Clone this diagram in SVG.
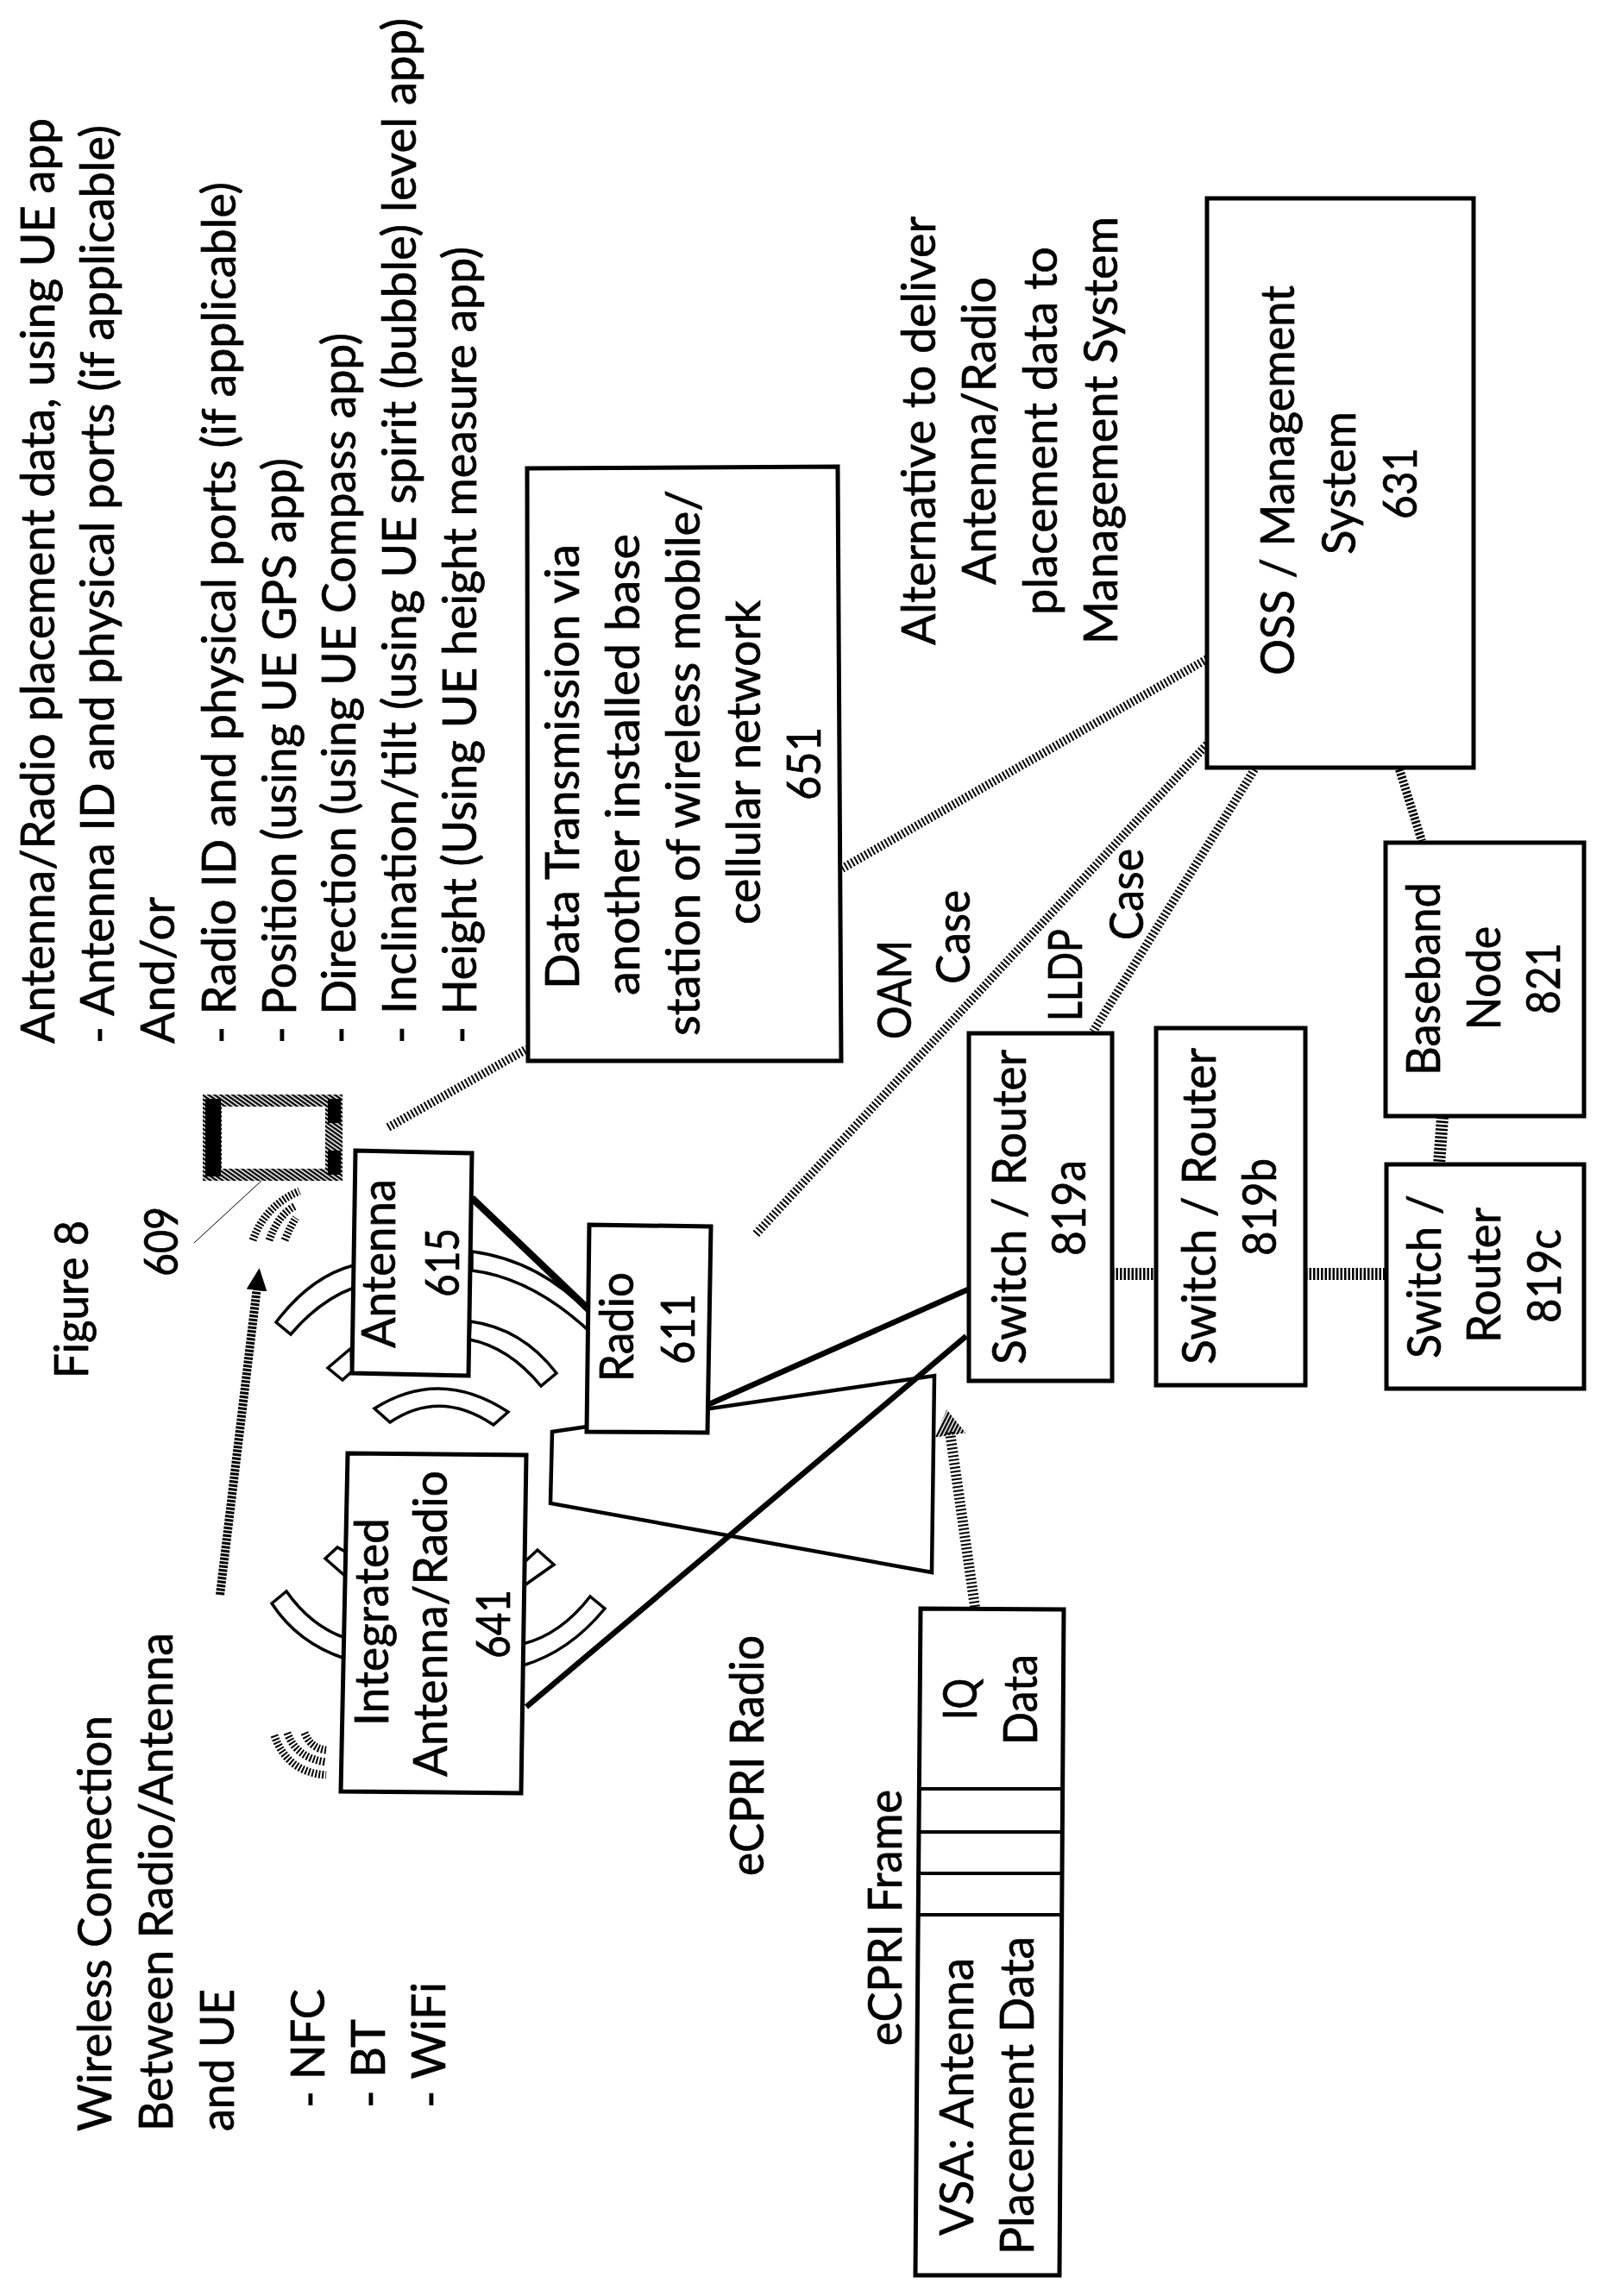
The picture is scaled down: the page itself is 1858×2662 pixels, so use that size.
<svg xmlns="http://www.w3.org/2000/svg" width="1858" height="2662" viewBox="0 0 1858 2662">
<style>
text{font-family:"Lato","Carlito","Liberation Sans",sans-serif;font-size:54px;fill:#000;stroke:#000;stroke-width:.7}
.b{fill:#fff;stroke:#000;stroke-width:5;stroke-linejoin:miter}
.a{fill:#fff;stroke:#000;stroke-width:3.5;stroke-linejoin:miter}
.k{fill:none;stroke:#000;stroke-width:6.5;stroke-linecap:butt}
.h{fill:none;stroke:#000;stroke-width:10;stroke-dasharray:2 2.5}
.hd{fill:none;stroke:#000;stroke-width:14;stroke-dasharray:2.5 2}
.w{fill:none;stroke:#000;stroke-width:9;stroke-dasharray:2 2}
</style>
<defs>
<pattern id="hatch" width="4" height="4" patternUnits="userSpaceOnUse" patternTransform="rotate(35)"><rect width="4" height="2.4" fill="#000"/></pattern>
<marker id="ah" markerUnits="userSpaceOnUse" markerWidth="30" markerHeight="30" refX="4" refY="12" orient="auto"><path d="M0 0L26 12L0 24Z" fill="#000"/></marker>
<marker id="ah2" markerUnits="userSpaceOnUse" markerWidth="36" markerHeight="40" refX="4" refY="18" orient="auto"><path d="M0 0L30 18L0 36Z" fill="url(#hatch)"/></marker>
</defs>

<g id="connectors">
<path class="h" d="M1399 764L976 1007"/>
<path class="h" d="M1399 863L875 1432"/>
<path class="h" d="M1454 892L1267 1196"/>
<path class="hd" style="stroke-width:10" d="M1622 892L1648 975"/>
<path class="hd" d="M1289 1477H1340"/>
<path class="hd" d="M1513 1477H1607"/>
<path class="hd" d="M1672 1295L1668 1350"/>
<path class="h" d="M450 1307L611 1216"/>
<path class="hd" style="stroke-width:10;stroke-dasharray:3 1.5" marker-end="url(#ah)" d="M255 1849L298 1492"/>
<path class="h" style="stroke-width:12;stroke-dasharray:2 2.5" marker-end="url(#ah2)" d="M1130 1863L1101 1660"/>
<path d="M225 1441L303 1369" fill="none" stroke="#000" stroke-width="1"/>
</g>

<g id="wireless-arcs">
<path class="a" d="M410 1467Q360 1480 320 1533L337 1547Q370 1508 410 1493Z"/>
<path class="a" d="M407 1563L380 1586L397 1600L408 1590Z"/>
<path class="a" d="M547 1451Q630 1462 690 1530L690 1550Q620 1482 547 1473Z"/>
<path class="a" d="M545 1532Q605 1540 645 1592L627 1607Q590 1562 544 1553Z"/>
<path class="a" d="M434 1633Q510 1585 589 1637L572 1652Q510 1610 452 1649Z"/>
<path class="a" d="M377 1807L391 1794L402 1800L402 1829Z"/>
<path class="a" d="M315 1859L332 1845Q360 1885 400 1899L400 1923Q345 1905 315 1859Z"/>
<path class="a" d="M608 1811L623 1797L642 1814L608 1838Z"/>
<path class="a" d="M606 1906Q650 1895 684 1851L701 1865Q660 1915 606 1931Z"/>
</g>

<g id="signal-ue">
<path class="w" d="M293 1438Q307 1398 347 1381"/>
<path class="w" d="M312 1438Q323 1407 343 1398"/>
<path class="w" d="M330 1438Q337 1421 343 1412"/>
</g>
<g id="signal-641">
<path class="w" d="M318 2012Q333 2055 378 2058"/>
<path class="w" d="M333 2009Q343 2038 378 2043"/>
<path class="w" d="M353 2009Q360 2027 378 2029"/>
</g>

<g id="node-609">
<path fill="url(#hatch)" fill-rule="evenodd" d="M235 1269H397V1369H235ZM257 1283V1355H377V1283Z"/>
<rect x="238" y="1274" width="18" height="90" fill="#000"/>
<rect x="380" y="1274" width="15" height="28" fill="#000"/>
<rect x="380" y="1334" width="15" height="28" fill="#000"/>
<text transform="translate(206,1480) rotate(-90)" textLength="81" lengthAdjust="spacingAndGlyphs">609</text>
</g>

<g id="node-eCPRI-radio">
<polygon class="b" style="stroke-width:4.5" points="640,1660 1083,1595 1080,1823 638,1743"/>
</g>

<g id="links-thick">
<path class="k" style="stroke-width:8" d="M547 1389L680 1516"/>
<path class="k" d="M822 1628L1122 1495"/>
<path class="k" d="M610 1979L1120 1549"/>
</g>

<g id="node-615">
<polygon class="b" points="412,1334 547,1337 543,1595 408,1592"/>
<text transform="translate(458,1563) rotate(-90)" textLength="196" lengthAdjust="spacingAndGlyphs">Antenna</text>
<text transform="translate(532,1504) rotate(-90)" textLength="80" lengthAdjust="spacingAndGlyphs">615</text>
</g>
<g id="node-611">
<polygon class="b" points="683,1420 824,1422 820,1661 680,1660"/>
<text transform="translate(734,1602) rotate(-90)" textLength="127" lengthAdjust="spacingAndGlyphs">Radio</text>
<text transform="translate(805,1582) rotate(-90)" textLength="82" lengthAdjust="spacingAndGlyphs">611</text>
</g>
<g id="node-641">
<polygon class="b" points="403,1685 610,1687 604,2079 395,2077"/>
<text transform="translate(450,2001) rotate(-90)" textLength="241" lengthAdjust="spacingAndGlyphs">Integrated</text>
<text transform="translate(518,2060) rotate(-90)" textLength="355" lengthAdjust="spacingAndGlyphs">Antenna/Radio</text>
<text transform="translate(591,1923) rotate(-90)" textLength="80" lengthAdjust="spacingAndGlyphs">641</text>
</g>
<g id="node-651">
<polygon class="b" points="611,543 971,541 975,1230 612,1230"/>
<text transform="translate(671,1147) rotate(-90)" textLength="516" lengthAdjust="spacingAndGlyphs">Data Transmission via</text>
<text transform="translate(741,1154) rotate(-90)" textLength="535" lengthAdjust="spacingAndGlyphs">another installed base</text>
<text transform="translate(811,1201) rotate(-90)" textLength="633" lengthAdjust="spacingAndGlyphs">station of wireless mobile/</text>
<text transform="translate(881,1072) rotate(-90)" textLength="376" lengthAdjust="spacingAndGlyphs">cellular network</text>
<text transform="translate(951,928) rotate(-90)" textLength="85" lengthAdjust="spacingAndGlyphs">651</text>
</g>
<g id="node-631">
<rect class="b" x="1399" y="230" width="309" height="660"/>
<text transform="translate(1500,783) rotate(-90)" textLength="452" lengthAdjust="spacingAndGlyphs">OSS / Management</text>
<text transform="translate(1571,643) rotate(-90)" textLength="166" lengthAdjust="spacingAndGlyphs">System</text>
<text transform="translate(1642,602) rotate(-90)" textLength="83" lengthAdjust="spacingAndGlyphs">631</text>
</g>
<g id="node-821">
<rect class="b" x="1606" y="977" width="230" height="317"/>
<text transform="translate(1669,1247) rotate(-90)" textLength="224" lengthAdjust="spacingAndGlyphs">Baseband</text>
<text transform="translate(1739,1194) rotate(-90)" textLength="120" lengthAdjust="spacingAndGlyphs">Node</text>
<text transform="translate(1808,1176) rotate(-90)" textLength="83" lengthAdjust="spacingAndGlyphs">821</text>
</g>
<g id="node-819a">
<rect class="b" x="1123" y="1198" width="166" height="403"/>
<text transform="translate(1189,1582) rotate(-90)" textLength="365" lengthAdjust="spacingAndGlyphs">Switch / Router</text>
<text transform="translate(1258,1456) rotate(-90)" textLength="111" lengthAdjust="spacingAndGlyphs">819a</text>
</g>
<g id="node-819b">
<rect class="b" x="1340" y="1192" width="173" height="414"/>
<text transform="translate(1409,1582) rotate(-90)" textLength="367" lengthAdjust="spacingAndGlyphs">Switch / Router</text>
<text transform="translate(1479,1456) rotate(-90)" textLength="113" lengthAdjust="spacingAndGlyphs">819b</text>
</g>
<g id="node-819c">
<rect class="b" x="1607" y="1350" width="229" height="260"/>
<text transform="translate(1670,1575) rotate(-90)" textLength="190" lengthAdjust="spacingAndGlyphs">Switch /</text>
<text transform="translate(1739,1557) rotate(-90)" textLength="157" lengthAdjust="spacingAndGlyphs">Router</text>
<text transform="translate(1809,1534) rotate(-90)" textLength="109" lengthAdjust="spacingAndGlyphs">819c</text>
</g>
<g id="node-frame">
<polygon class="b" points="1067,1865 1233,1866 1228,2638 1061,2638"/>
<path class="b" style="stroke-width:4;fill:none" d="M1066 2074H1231M1065 2124H1231M1065 2172H1230M1065 2220H1230"/>
<text transform="translate(1132,1994) rotate(-90)" textLength="48" lengthAdjust="spacingAndGlyphs">IQ</text>
<text transform="translate(1202,2023) rotate(-90)" textLength="105" lengthAdjust="spacingAndGlyphs">Data</text>
<text transform="translate(1128,2592) rotate(-90)" textLength="322" lengthAdjust="spacingAndGlyphs">VSA: Antenna</text>
<text transform="translate(1198,2614) rotate(-90)" textLength="369" lengthAdjust="spacingAndGlyphs">Placement Data</text>
</g>

<g id="labels">
<text transform="translate(63,1210) rotate(-90)" textLength="1073" lengthAdjust="spacingAndGlyphs">Antenna/Radio placement data, using UE app</text>
<text transform="translate(132,1210) rotate(-90)" textLength="1065" lengthAdjust="spacingAndGlyphs">- Antenna ID and physical ports (if applicable)</text>
<text transform="translate(202,1210) rotate(-90)" textLength="170" lengthAdjust="spacingAndGlyphs">And/or</text>
<text transform="translate(273,1210) rotate(-90)" textLength="999" lengthAdjust="spacingAndGlyphs">- Radio ID and physical ports (if applicable)</text>
<text transform="translate(343,1210) rotate(-90)" textLength="679" lengthAdjust="spacingAndGlyphs">- Position (using UE GPS app)</text>
<text transform="translate(412,1210) rotate(-90)" textLength="824" lengthAdjust="spacingAndGlyphs">- Direction (using UE Compass app)</text>
<text transform="translate(482,1210) rotate(-90)" textLength="1189" lengthAdjust="spacingAndGlyphs">- Inclination/tilt (using UE spirit (bubble) level app)</text>
<text transform="translate(552,1210) rotate(-90)" textLength="924" lengthAdjust="spacingAndGlyphs">- Height (Using UE height measure app)</text>
<text transform="translate(102,1598) rotate(-90)" textLength="183" lengthAdjust="spacingAndGlyphs">Figure 8</text>
<text transform="translate(129,2471) rotate(-90)" textLength="482" lengthAdjust="spacingAndGlyphs">Wireless Connection</text>
<text transform="translate(200,2471) rotate(-90)" textLength="578" lengthAdjust="spacingAndGlyphs">Between Radio/Antenna</text>
<text transform="translate(271,2471) rotate(-90)" textLength="165" lengthAdjust="spacingAndGlyphs">and UE</text>
<text transform="translate(376,2444) rotate(-90)" textLength="138" lengthAdjust="spacingAndGlyphs">-  NFC</text>
<text transform="translate(446,2444) rotate(-90)" textLength="103" lengthAdjust="spacingAndGlyphs">-  BT</text>
<text transform="translate(516,2444) rotate(-90)" textLength="146" lengthAdjust="spacingAndGlyphs">-  WiFi</text>
<text transform="translate(885,2175) rotate(-90)" textLength="279" lengthAdjust="spacingAndGlyphs">eCPRI Radio</text>
<text transform="translate(1045,2372) rotate(-90)" textLength="297" lengthAdjust="spacingAndGlyphs">eCPRI Frame</text>
<text transform="translate(1056,1205) rotate(-90)" textLength="115" lengthAdjust="spacingAndGlyphs">OAM</text>
<text transform="translate(1124,1141) rotate(-90)" textLength="109" lengthAdjust="spacingAndGlyphs">Case</text>
<text transform="translate(1254,1184) rotate(-90)" textLength="107" lengthAdjust="spacingAndGlyphs">LLDP</text>
<text transform="translate(1325,1090) rotate(-90)" textLength="106" lengthAdjust="spacingAndGlyphs">Case</text>
<text transform="translate(1084,748) rotate(-90)" textLength="497" lengthAdjust="spacingAndGlyphs">Alternative to deliver</text>
<text transform="translate(1154,678) rotate(-90)" textLength="357" lengthAdjust="spacingAndGlyphs">Antenna/Radio</text>
<text transform="translate(1225,713) rotate(-90)" textLength="427" lengthAdjust="spacingAndGlyphs">placement data to</text>
<text transform="translate(1295,747) rotate(-90)" textLength="496" lengthAdjust="spacingAndGlyphs">Management System</text>
</g>
</svg>
